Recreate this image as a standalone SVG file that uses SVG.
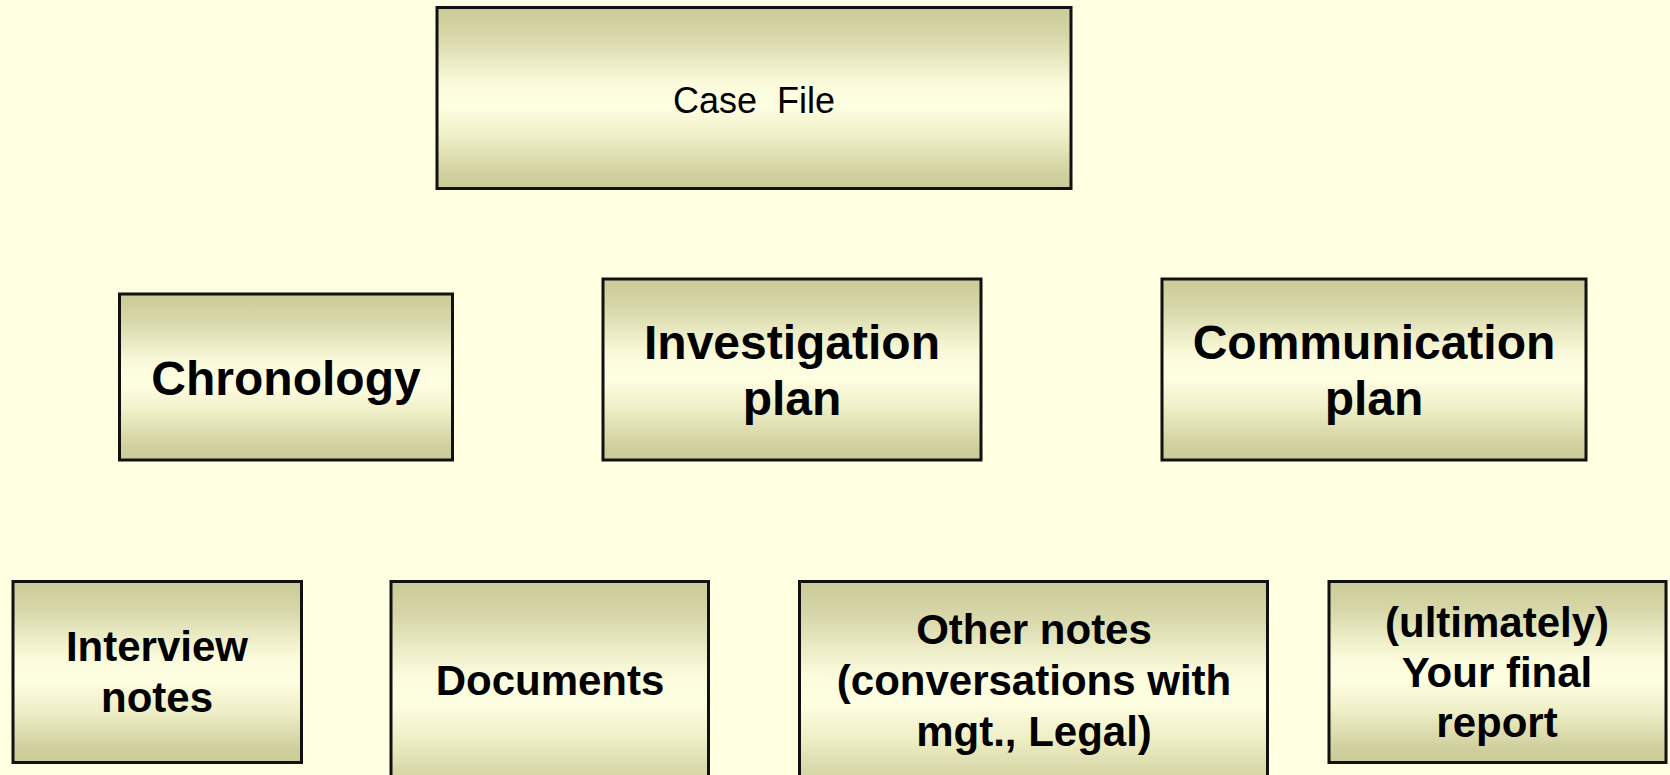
<svg xmlns="http://www.w3.org/2000/svg" width="1670" height="775" viewBox="0 0 1670 775">
  <defs>
    <linearGradient id="fill" x1="0" y1="0" x2="0" y2="1">
      <stop offset="0" stop-color="#cbcb97"/>
      <stop offset="0.15" stop-color="#d6d6a8"/>
      <stop offset="0.42" stop-color="#fbfbdc"/>
      <stop offset="0.55" stop-color="#fefee2"/>
      <stop offset="0.72" stop-color="#eeeec6"/>
      <stop offset="0.9" stop-color="#d2d2a2"/>
      <stop offset="1" stop-color="#cbcb97"/>
    </linearGradient>
    <style>
      .box { fill: url(#fill); stroke: #111; stroke-width: 3; }
      .t { font-family: "Liberation Sans", Arial, sans-serif; font-weight: bold; fill: #000; text-anchor: middle; }
      .big { font-size: 48px; }
      .small { font-size: 42px; }
      .reg { font-family: "Liberation Sans", Arial, sans-serif; font-size: 36px; fill: #000; text-anchor: middle; }
    </style>
  </defs>
  <rect x="0" y="0" width="1670" height="775" fill="#ffffe1"/>
  <g id="connectors"/>
  <g id="case-file">
    <rect class="box" x="437" y="7.5" width="634" height="181"/>
    <text class="reg" x="754" y="113" xml:space="preserve">Case  File</text>
  </g>
  <g id="chronology">
    <rect class="box" x="119.5" y="294" width="333" height="166"/>
    <text class="t big" x="286" y="395">Chronology</text>
  </g>
  <g id="investigation-plan">
    <rect class="box" x="603" y="279" width="378" height="181"/>
    <text class="t big" x="792" y="359">Investigation</text>
    <text class="t big" x="792" y="415">plan</text>
  </g>
  <g id="communication-plan">
    <rect class="box" x="1162" y="279" width="424" height="181"/>
    <text class="t big" x="1374" y="359">Communication</text>
    <text class="t big" x="1374" y="415">plan</text>
  </g>
  <g id="interview-notes">
    <rect class="box" x="13" y="581.5" width="288.5" height="181"/>
    <text class="t small" x="157" y="661">Interview</text>
    <text class="t small" x="157" y="712">notes</text>
  </g>
  <g id="documents">
    <rect class="box" x="391" y="581.5" width="317.5" height="220"/>
    <text class="t small" x="550" y="695">Documents</text>
  </g>
  <g id="other-notes">
    <rect class="box" x="799.5" y="581.5" width="468" height="220"/>
    <text class="t small" x="1034" y="644">Other notes</text>
    <text class="t small" x="1034" y="695">(conversations with</text>
    <text class="t small" x="1034" y="746">mgt., Legal)</text>
  </g>
  <g id="final-report">
    <rect class="box" x="1329" y="581.5" width="337" height="181"/>
    <text class="t small" x="1497" y="637">(ultimately)</text>
    <text class="t small" x="1497" y="687">Your final</text>
    <text class="t small" x="1497" y="737">report</text>
  </g>
</svg>
